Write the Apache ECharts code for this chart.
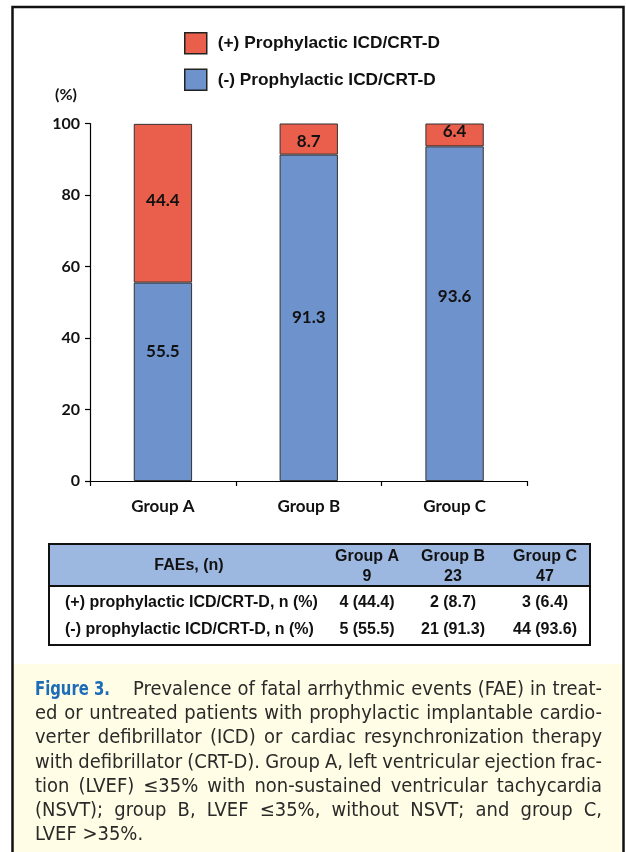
<!DOCTYPE html>
<html><head><meta charset="utf-8">
<script src="https://cdn.jsdelivr.net/npm/echarts@6/dist/echarts.min.js"></script>
<style>html,body{margin:0;padding:0;background:#fff}#c{width:626px;height:852px}</style>
</head><body><div id="c"></div>
<script>
// ---- data ----
const categories = ['Group A', 'Group B', 'Group C'];
const positiveICD = [44.4, 8.7, 6.4];
const negativeICD = [55.5, 91.3, 93.6];
const seriesNames = ['(+) Prophylactic ICD/CRT-D', '(-) Prophylactic ICD/CRT-D'];
const yUnit = '(%)';
const tableHeaderLabel = 'FAEs, (n)';
const tableGroupN = ['9', '23', '47'];
const tableRowLabels = ['(+) prophylactic ICD/CRT-D, n (%)', '(-) prophylactic ICD/CRT-D, n (%)'];
const tablePositiveCells = ['4 (44.4)', '2 (8.7)', '3 (6.4)'];
const tableNegativeCells = ['5 (55.5)', '21 (91.3)', '44 (93.6)'];
const captionLead = 'Figure 3.';
const captionLines = [
  'Prevalence of fatal arrhythmic events (FAE) in treat-',
  'ed or untreated patients with prophylactic implantable cardio-',
  'verter defibrillator (ICD) or cardiac resynchronization therapy',
  'with defibrillator (CRT-D). Group A, left ventricular ejection frac-',
  'tion (LVEF) \u226435% with non-sustained ventricular tachycardia',
  '(NSVT); group B, LVEF \u226435%, without NSVT; and group C,',
  'LVEF >35%.'
];

// ---- styles ----
const RED = '#E95F4B', BLUE = '#6E92CC';
const barFont = 'Lato';
const tblFont = '"Liberation Sans", Arial, sans-serif';
const capFamily = '"Liberation Sans Narrow", "DejaVu Sans Condensed", "Liberation Sans", sans-serif';

const chart = echarts.init(document.getElementById('c'), null, {renderer: 'canvas'});

// label vertical nudges (layout only)
const negShift = [-30, 0, -17];
const posShift = [-3, 2, -3];

const graphics = [];
graphics.push({type: 'rect', z: 0, shape: {x: 13, y: 664, width: 611, height: 200}, style: {fill: '#FFFDE6'}});
graphics.push({type: 'rect', z: 50, shape: {x: 12.5, y: 7, width: 611, height: 900}, style: {fill: null, stroke: '#111', lineWidth: 2.5}});
graphics.push({type: 'text', z: 10, x: 66, y: 95, style: {text: yUnit, font: 'bold 16px Lato', fill: '#111', textAlign: 'center', textVerticalAlign: 'middle', align: 'center', verticalAlign: 'middle'}});

// ---- table ----
const tX = 49, tY = 544, tW = 541, tH = 101, hdrH = 42;
const colX = [367, 453, 545];
graphics.push({type: 'rect', z: 5, shape: {x: tX, y: tY, width: tW, height: tH}, style: {fill: '#fff'}});
graphics.push({type: 'rect', z: 6, shape: {x: tX, y: tY, width: tW, height: hdrH}, style: {fill: '#9DB8E0'}});
graphics.push({type: 'line', z: 7, shape: {x1: tX, y1: tY + hdrH, x2: tX + tW, y2: tY + hdrH}, style: {stroke: '#111', lineWidth: 2}});
graphics.push({type: 'rect', z: 7, shape: {x: tX, y: tY, width: tW, height: tH}, style: {fill: null, stroke: '#111', lineWidth: 2}});
function tText(t, x, y, align) {
  graphics.push({type: 'text', z: 8, x: x, y: y, style: {text: t, font: 'bold 16px ' + tblFont, fill: '#111', textAlign: align || 'center', align: align || 'center', textVerticalAlign: 'middle', verticalAlign: 'middle'}});
}
tText(tableHeaderLabel, 189, 566);
categories.forEach((c, i) => { tText(c, colX[i], 557); tText(tableGroupN[i], colX[i], 577); });
tText(tableRowLabels[0], 65, 603, 'left');
tText(tableRowLabels[1], 65, 630, 'left');
tablePositiveCells.forEach((v, i) => tText(v, colX[i], 603));
tableNegativeCells.forEach((v, i) => tText(v, colX[i], 630));

// ---- caption (justified) ----
const fs = 19;
const ctx = document.createElement('canvas').getContext('2d');
ctx.font = fs + 'px ' + capFamily;
const capLeft = 35, capRight = 602, firstStart = 133, lineY0 = 690, lineStep = 24.2;
const lineWords = captionLines.map(l => l.split(' '));
const lineW = lineWords.map(ws => ws.map(w => ctx.measureText(w).width));
let sx = 10;
lineWords.forEach((ws, i) => {
  if (i === captionLines.length - 1) return;
  const avail = capRight - (i === 0 ? firstStart : capLeft);
  const total = lineW[i].reduce((a, b) => a + b, 0);
  const need = (avail - (ws.length - 1) * 0.27 * fs) / total;
  sx = Math.min(sx, need);
});
const spaceW = ctx.measureText(' ').width * sx;
lineWords.forEach((ws, i) => {
  const start = i === 0 ? firstStart : capLeft;
  const total = lineW[i].reduce((a, b) => a + b, 0) * sx;
  const last = i === captionLines.length - 1;
  const gap = last ? spaceW : (capRight - start - total) / (ws.length - 1);
  let x = start;
  ws.forEach((w, k) => {
    graphics.push({type: 'text', z: 10, x: x, y: lineY0 + i * lineStep, scaleX: sx,
      style: {text: w, font: fs + 'px ' + capFamily, fill: '#2B2A29', textAlign: 'left', align: 'left', textVerticalAlign: 'middle', verticalAlign: 'middle'}});
    x += lineW[i][k] * sx + gap;
  });
});
const leadFont = 'bold 20px ' + capFamily;
ctx.font = leadFont;
const leadSx = 75 / ctx.measureText(captionLead).width;
graphics.push({type: 'text', z: 10, x: capLeft, y: lineY0, scaleX: leadSx, style: {text: captionLead, font: leadFont, fill: '#1D6CB7', textAlign: 'left', align: 'left', textVerticalAlign: 'middle', verticalAlign: 'middle'}});

const labelBase = {show: true, position: 'inside', fontFamily: barFont, fontWeight: 'bold', fontSize: 17, color: '#111', formatter: p => p.value.toFixed(1)};

chart.setOption({
  animation: false,
  backgroundColor: '#fff',
  grid: {left: 90, right: 98.5, top: 123.5, bottom: 371, containLabel: false},
  legend: {
    data: [seriesNames[0], seriesNames[1]],
    orient: 'vertical', left: 179, top: 27, itemWidth: 22, itemHeight: 21, itemGap: 14,
    icon: 'rect',
    itemStyle: {borderColor: '#222', borderWidth: 1.5},
    formatter: n => '{a|' + n + '}',
    textStyle: {rich: {a: {fontFamily: tblFont, fontWeight: 'bold', fontSize: 17.3, color: '#111', padding: [0, 0, 0, 6]}}}
  },
  xAxis: {
    type: 'category', data: categories,
    axisLine: {lineStyle: {color: '#000', width: 1.2}},
    axisTick: {show: true, length: 5, lineStyle: {color: '#000', width: 1.2}},
    axisLabel: {margin: 17, fontFamily: barFont, fontWeight: 'bold', fontSize: 17, color: '#111'}
  },
  yAxis: {
    type: 'value', min: 0, max: 100, interval: 20,
    axisLine: {show: true, lineStyle: {color: '#000', width: 1.2}},
    axisTick: {show: true, length: 5, lineStyle: {color: '#000', width: 1.2}},
    splitLine: {show: false},
    axisLabel: {margin: 10, fontFamily: barFont, fontWeight: 'bold', fontSize: 16, color: '#111'}
  },
  series: [
    {name: seriesNames[1], type: 'bar', stack: 'all', barWidth: '40%',
     itemStyle: {color: BLUE, borderColor: '#333', borderWidth: 1},
     label: labelBase,
     data: negativeICD.map((v, i) => ({value: v, label: {offset: [0, negShift[i]]}}))},
    {name: seriesNames[0], type: 'bar', stack: 'all', barWidth: '40%',
     itemStyle: {color: RED, borderColor: '#333', borderWidth: 1},
     label: labelBase,
     data: positiveICD.map((v, i) => ({value: v, label: {offset: [0, posShift[i]]}}))}
  ],
  graphic: {elements: graphics}
});
</script></body></html>
